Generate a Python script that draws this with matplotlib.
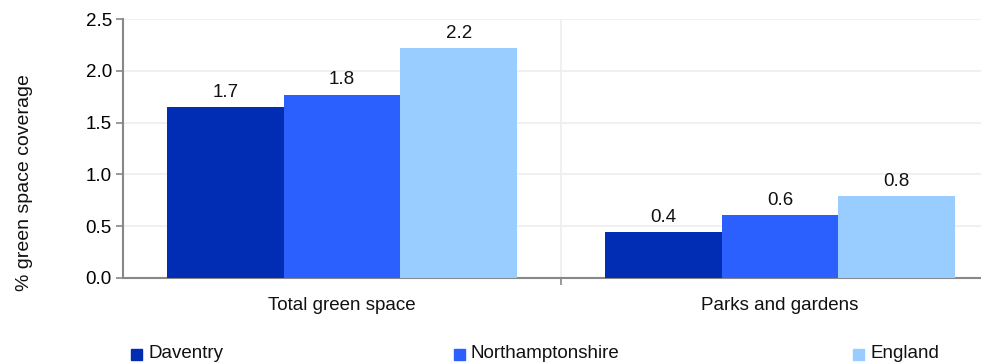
import numpy as np
import matplotlib
matplotlib.use('Agg')
from matplotlib import pyplot as plt

plt.rcParams['font.family'] = ['Liberation Sans', 'DejaVu Sans']

categories = ['Total green space', 'Parks and gardens']
series = ['Daventry', 'Northamptonshire', 'England']
daventry = [1.65, 0.44]
northants = [1.77, 0.61]
england = [2.22, 0.79]
bar_labels = [['1.7', '0.4'], ['1.8', '0.6'], ['2.2', '0.8']]
colors = ['#002DB3', '#2B60FF', '#99CCFF']
fs = 13.5

fig = plt.figure(figsize=(9.81, 3.62), dpi=100)
ax = fig.add_axes([123/981, 1-278/362, (999-123)/981, (278-19)/362])

x = np.arange(len(categories))
w = 0.8/3
for i, vals in enumerate([daventry, northants, england]):
    bars = ax.bar(x + (i-1)*w, vals, w, color=colors[i], zorder=3)
    for b, lab in zip(bars, bar_labels[i]):
        ax.text(b.get_x() + b.get_width()/2, b.get_height() + 0.06, lab,
                ha='center', va='bottom', fontsize=fs, color='#111111')

ax.set_xlim(-0.5, 1.5)
ax.set_ylim(0, 2.5)
ax.set_yticks(np.arange(0, 2.51, 0.5))
ax.set_yticklabels(['%.1f' % v for v in np.arange(0, 2.51, 0.5)], fontsize=fs)
ax.yaxis.grid(True, color='#EEEEEE', linewidth=1.2, zorder=0)
ax.axvline(0.5, color='#EEEEEE', linewidth=1.2, zorder=0)
ax.set_xticks([0.5])
ax.set_xticklabels([''])
ax.tick_params(axis='x', length=5, color='#888888', width=1.2)
ax.tick_params(axis='y', length=5, color='#888888', width=1.2, pad=3)
for c, lab in zip(x, categories):
    ax.text(c, -0.18, lab, ha='center', va='top', fontsize=fs,
            transform=ax.transData, color='#111111')

for s in ['top', 'right']:
    ax.spines[s].set_visible(False)
for s in ['left', 'bottom']:
    ax.spines[s].set_color('#888888')
    ax.spines[s].set_linewidth(1.5)

fig.text(25/981, 1-183/362, '% green space coverage', fontsize=14,
         rotation=90, ha='center', va='center', color='#111111')

# legend along the bottom edge
leg_x = [131, 454, 853]
for px, name, col in zip(leg_x, series, colors):
    fig.patches.append(plt.Rectangle((px/981, 1-360/362), 11/981, 11/362,
                                     transform=fig.transFigure, color=col,
                                     figure=fig))
    fig.text((px + 17)/981, 1-354/362, name, fontsize=fs, va='center',
             color='#111111')

fig.savefig('out.png', dpi=100)
